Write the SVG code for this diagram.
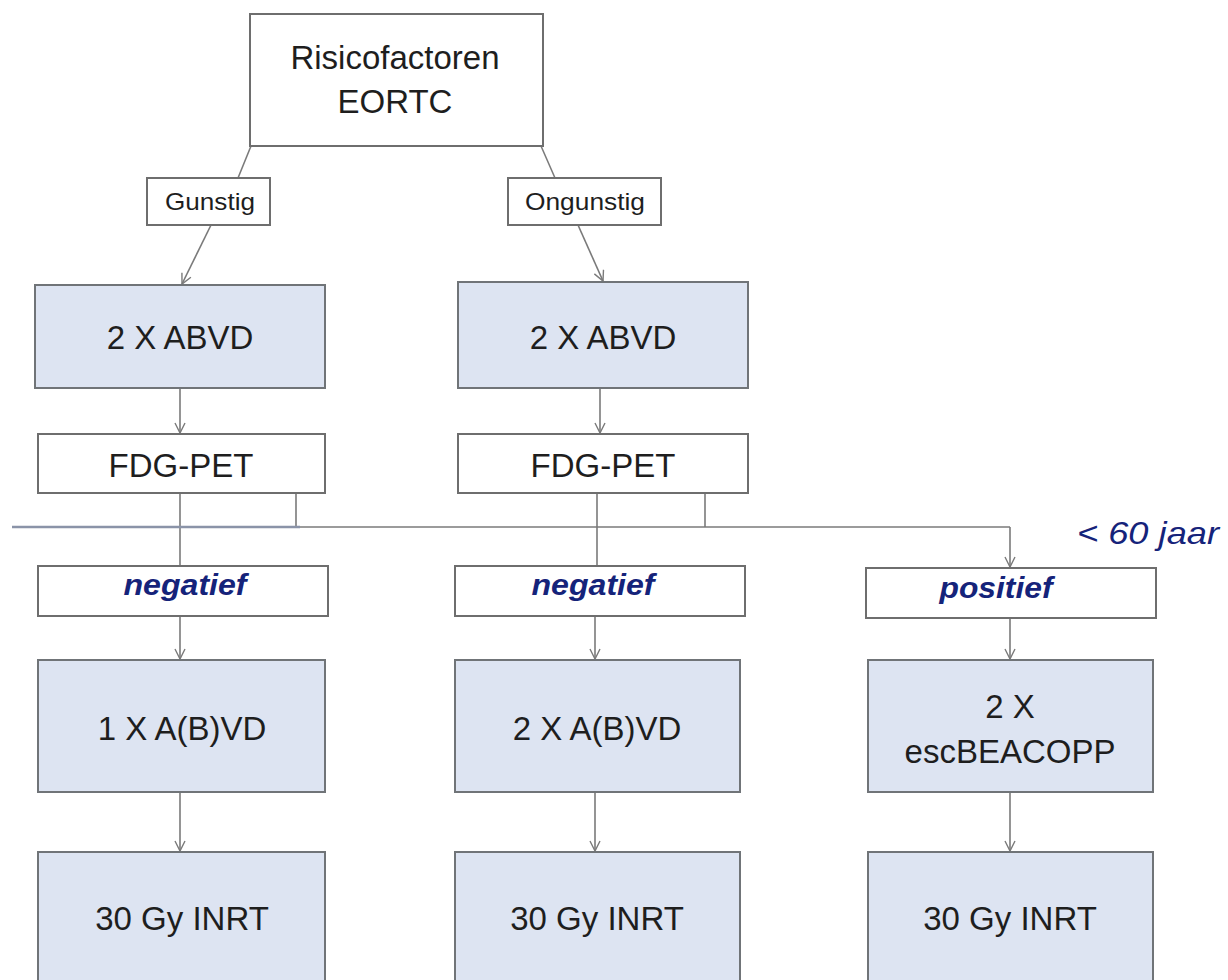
<svg xmlns="http://www.w3.org/2000/svg" width="1228" height="980" viewBox="0 0 1228 980">
<style>
.box{fill:#ffffff;stroke:#6e6e6e;stroke-width:2}
.fill{fill:#dde4f2;stroke:#707478;stroke-width:2}
.t{font-family:"Liberation Sans",Arial,sans-serif;fill:#1e1e1e;text-anchor:middle}
.big{font-size:33px}
.sm{font-size:24px}
.lab{font-family:"Liberation Sans",Arial,sans-serif;fill:#15237a;font-style:italic;font-weight:bold;font-size:29px;text-anchor:middle}
.age{font-family:"Liberation Sans",Arial,sans-serif;fill:#15237a;font-style:italic;font-size:32px}
.c{stroke:#7a7a7a;stroke-width:1.6;fill:none}
</style>
<defs>
<marker id="ah" viewBox="0 0 12 12" refX="11" refY="6" markerWidth="12" markerHeight="12" markerUnits="userSpaceOnUse" orient="auto">
<path d="M1,1 L11,6 L1,11" fill="none" stroke="#7a7a7a" stroke-width="1.4"/>
</marker>
</defs>
<rect width="1228" height="980" fill="#ffffff"/>
<g id="connectors">
<line class="c" x1="251" y1="146" x2="238" y2="178"/>
<line class="c" x1="541" y1="146" x2="555" y2="178"/>
<line class="c" x1="211" y1="225" x2="182" y2="284" marker-end="url(#ah)"/>
<line class="c" x1="578" y1="225" x2="603" y2="281" marker-end="url(#ah)"/>
<line class="c" x1="180" y1="388" x2="180" y2="433" marker-end="url(#ah)"/>
<line class="c" x1="600" y1="388" x2="600" y2="433" marker-end="url(#ah)"/>
<line class="c" x1="180" y1="493" x2="180" y2="566"/>
<line class="c" x1="296" y1="493" x2="296" y2="527"/>
<line class="c" x1="597" y1="493" x2="597" y2="566"/>
<line class="c" x1="705" y1="493" x2="705" y2="527"/>
<line x1="12" y1="527" x2="300" y2="527" stroke="#8a93a8" stroke-width="2.4"/>
<line class="c" x1="300" y1="527" x2="1010" y2="527"/>
<line class="c" x1="1010" y1="527" x2="1010" y2="567" marker-end="url(#ah)"/>
<line class="c" x1="180" y1="616" x2="180" y2="659" marker-end="url(#ah)"/>
<line class="c" x1="595" y1="616" x2="595" y2="659" marker-end="url(#ah)"/>
<line class="c" x1="1010" y1="618" x2="1010" y2="659" marker-end="url(#ah)"/>
<line class="c" x1="180" y1="792" x2="180" y2="851" marker-end="url(#ah)"/>
<line class="c" x1="595" y1="792" x2="595" y2="851" marker-end="url(#ah)"/>
<line class="c" x1="1010" y1="792" x2="1010" y2="851" marker-end="url(#ah)"/>
</g>
<g id="n-risico">
<rect class="box" x="250" y="14" width="293" height="132"/>
<text class="t big" x="395" y="69">Risicofactoren</text>
<text class="t big" x="395" y="113">EORTC</text>
</g>
<g id="n-gunstig">
<rect class="box" x="147" y="178" width="123" height="47"/>
<text class="t sm" x="210" y="210" textLength="90" lengthAdjust="spacingAndGlyphs">Gunstig</text>
</g>
<g id="n-ongunstig">
<rect class="box" x="508" y="178" width="153" height="47"/>
<text class="t sm" x="585" y="210" textLength="120" lengthAdjust="spacingAndGlyphs">Ongunstig</text>
</g>
<g id="n-abvd1">
<rect class="fill" x="35" y="285" width="290" height="103"/>
<text class="t big" x="180" y="349">2 X ABVD</text>
</g>
<g id="n-abvd2">
<rect class="fill" x="458" y="282" width="290" height="106"/>
<text class="t big" x="603" y="349">2 X ABVD</text>
</g>
<g id="n-pet1">
<rect class="box" x="38" y="434" width="287" height="59"/>
<text class="t big" x="181" y="477">FDG-PET</text>
</g>
<g id="n-pet2">
<rect class="box" x="458" y="434" width="290" height="59"/>
<text class="t big" x="603" y="477">FDG-PET</text>
</g>
<g id="n-neg1">
<rect class="box" x="38" y="566" width="290" height="50"/>
<text class="lab" x="185" y="595" textLength="123" lengthAdjust="spacingAndGlyphs">negatief</text>
</g>
<g id="n-neg2">
<rect class="box" x="455" y="566" width="290" height="50"/>
<text class="lab" x="593" y="595" textLength="123" lengthAdjust="spacingAndGlyphs">negatief</text>
</g>
<g id="n-pos">
<rect class="box" x="866" y="568" width="290" height="50"/>
<text class="lab" x="996" y="598" textLength="113" lengthAdjust="spacingAndGlyphs">positief</text>
</g>
<text id="age" class="age" x="1077" y="544" textLength="142" lengthAdjust="spacingAndGlyphs">&lt; 60 jaar</text>
<g id="n-a1">
<rect class="fill" x="38" y="660" width="287" height="132"/>
<text class="t big" x="182" y="740">1 X A(B)VD</text>
</g>
<g id="n-a2">
<rect class="fill" x="455" y="660" width="285" height="132"/>
<text class="t big" x="597" y="740">2 X A(B)VD</text>
</g>
<g id="n-esc">
<rect class="fill" x="868" y="660" width="285" height="132"/>
<text class="t big" x="1010" y="718">2 X</text>
<text class="t big" x="1010" y="763">escBEACOPP</text>
</g>
<g id="n-r1">
<rect class="fill" x="38" y="852" width="287" height="140"/>
<text class="t big" x="182" y="930">30 Gy INRT</text>
</g>
<g id="n-r2">
<rect class="fill" x="455" y="852" width="285" height="140"/>
<text class="t big" x="597" y="930">30 Gy INRT</text>
</g>
<g id="n-r3">
<rect class="fill" x="868" y="852" width="285" height="140"/>
<text class="t big" x="1010" y="930">30 Gy INRT</text>
</g>
</svg>
